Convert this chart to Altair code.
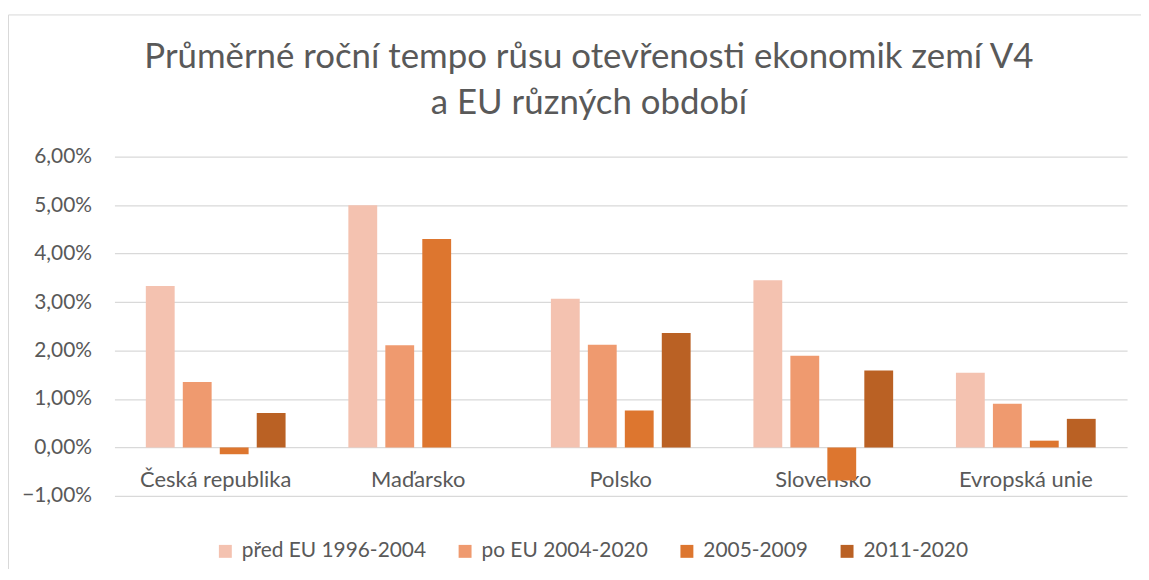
import altair as alt
import pandas as pd

categories = ["Česká republika", "Maďarsko", "Polsko", "Slovensko", "Evropská unie"]
series = ["před EU 1996-2004", "po EU 2004-2020", "2005-2009", "2011-2020"]
colors = ["#F4C2B0", "#EF9A6F", "#DD762F", "#BA6124"]

pred_eu = [3.33, 5.00, 3.07, 3.45, 1.54]
po_eu = [1.35, 2.11, 2.12, 1.89, 0.90]
y2005_2009 = [-0.14, 4.30, 0.76, -0.68, 0.14]
y2011_2020 = [0.71, None, 2.36, 1.59, 0.59]

y_ticks = [-1, 0, 1, 2, 3, 4, 5, 6]

rows = []
for s, vals in zip(series, [pred_eu, po_eu, y2005_2009, y2011_2020]):
    for c, v in zip(categories, vals):
        if v is not None:
            rows.append({"kategorie": c, "obdobi": s, "hodnota": v})
df = pd.DataFrame(rows)

FONT = "Lato"
GRAY = "#595959"

bars = alt.Chart(df).mark_bar().encode(
    x=alt.X(
        "kategorie:N",
        sort=categories,
        scale=alt.Scale(paddingInner=0.31, paddingOuter=0.155),
        axis=alt.Axis(
            title=None, labelAngle=0, domain=False, ticks=False, grid=False,
            offset=-49, labelPadding=23, labelFontSize=22, labelColor=GRAY,
            labelFont=FONT,
        ),
    ),
    xOffset=alt.XOffset("obdobi:N", sort=series, scale=alt.Scale(paddingInner=0.22)),
    y=alt.Y(
        "hodnota:Q",
        scale=alt.Scale(domain=[-1, 6], nice=False, zero=False),
        axis=alt.Axis(
            title=None, values=y_ticks, domain=False, ticks=False,
            labelExpr="replace(format(datum.value, '.2f'), '.', ',') + '%'",
            labelPadding=23, labelFontSize=21, labelColor=GRAY, labelFont=FONT,
            gridColor="#D9D9D9", gridWidth=1.3,
        ),
    ),
    color=alt.Color(
        "obdobi:N",
        sort=series,
        scale=alt.Scale(domain=series, range=colors),
        legend=alt.Legend(
            title=None, orient="none", direction="horizontal",
            legendX=101, legendY=386, symbolType="square", symbolSize=169,
            symbolStrokeWidth=0, labelFontSize=21, labelColor=GRAY, labelFont=FONT,
            columnPadding=28, labelOffset=6, labelLimit=400,
        ),
    ),
)

frame = alt.Chart(pd.DataFrame({"a": [0]})).mark_rect(
    fill=None, stroke="#D9D9D9", strokeWidth=1
).encode(
    x=alt.value(-106.5), x2=alt.value(1100), y=alt.value(-142.5), y2=alt.value(500)
)

chart = alt.layer(frame, bars).properties(
    width=1018,
    height=341,
    autosize=alt.AutoSizeParams(type="none"),
    padding={"left": 107, "top": 148, "right": 14, "bottom": 72},
    title=alt.Title(
        ["Průměrné roční tempo růsu otevřenosti ekonomik zemí V4", "a EU různých období"],
        fontSize=35, font=FONT, fontWeight="normal", color=GRAY,
        anchor="middle", lineHeight=46, offset=-135, dx=-32, baseline="alphabetic",
    ),
).configure_view(stroke=None)

chart.save("out.html", embed_options={"renderer": "svg", "actions": False})
